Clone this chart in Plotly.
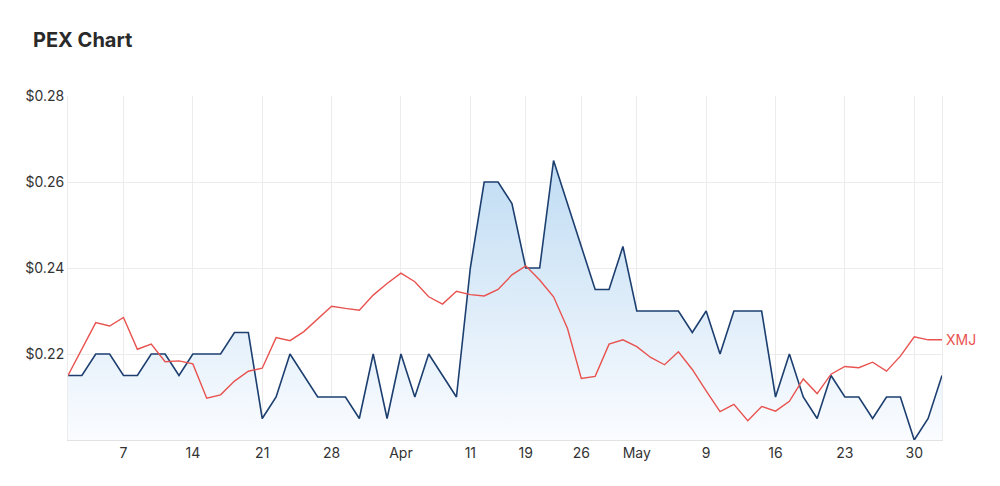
import plotly.graph_objects as go

# trading-day index (0 = 1 Mar 2022 ... 63 = 1 Jun 2022)
day_index = list(range(64))

pex = [0.215, 0.215, 0.22, 0.22, 0.215, 0.215, 0.22, 0.22, 0.215, 0.22,
       0.22, 0.22, 0.225, 0.225, 0.205, 0.21, 0.22, 0.215, 0.21, 0.21,
       0.21, 0.205, 0.22, 0.205, 0.22, 0.21, 0.22, 0.215, 0.21, 0.24,
       0.26, 0.26, 0.255, 0.24, 0.24, 0.265, 0.255, 0.245, 0.235, 0.235,
       0.245, 0.23, 0.23, 0.23, 0.23, 0.225, 0.23, 0.22, 0.23, 0.23,
       0.23, 0.21, 0.22, 0.21, 0.205, 0.215, 0.21, 0.21, 0.205, 0.21,
       0.21, 0.20, 0.205, 0.215]

xmj = [0.215, 0.2213, 0.2273, 0.2265, 0.2285, 0.2211, 0.2223, 0.2182, 0.2184, 0.2177,
       0.2097, 0.2105, 0.2137, 0.2160, 0.2167, 0.2238, 0.2231, 0.2252, 0.2281, 0.2311,
       0.2306, 0.2302, 0.2337, 0.2364, 0.2388, 0.2368, 0.2333, 0.2316, 0.2346, 0.2338,
       0.2335, 0.2350, 0.2384, 0.2405, 0.2372, 0.2333, 0.2260, 0.2143, 0.2148, 0.2223,
       0.2233, 0.2217, 0.2192, 0.2175, 0.2205, 0.2164, 0.2114, 0.2066, 0.2083, 0.2045,
       0.2078, 0.2067, 0.2090, 0.2142, 0.2108, 0.2153, 0.2171, 0.2168, 0.2181, 0.2160,
       0.2195, 0.2240, 0.2233, 0.2233]

tick_index = [4, 9, 14, 19, 24, 29, 33, 37, 41, 46, 51, 56, 61]
tick_text = ["7", "14", "21", "28", "Apr", "11", "19", "26", "May", "9", "16", "23", "30"]
y_ticks = [0.22, 0.24, 0.26, 0.28]
y_tick_text = ["$0.22", "$0.24", "$0.26", "$0.28"]

FONT = "Inter, Roboto, Arial, sans-serif"
GRID = "#ececec"

fig = go.Figure()
fig.add_trace(go.Scatter(
    x=day_index, y=pex, mode="lines", name="PEX",
    line=dict(color="#1c3f70", width=1.6),
    fill="tozeroy",
    fillgradient=dict(type="vertical", start=0.20, stop=0.265,
                      colorscale=[[0, "rgba(250,252,255,1)"], [1, "rgba(192,220,243,1)"]]),
    hoverinfo="skip",
))
fig.add_trace(go.Scatter(
    x=day_index, y=xmj, mode="lines", name="XMJ",
    line=dict(color="#e8524f", width=1.4),
    hoverinfo="skip",
))

fig.add_annotation(x=day_index[-1], y=xmj[-1], text="XMJ", showarrow=False,
                   xanchor="left", yanchor="middle", xshift=2,
                   font=dict(family=FONT, size=14, color="#e8524f"))

fig.update_layout(
    width=1000, height=486,
    margin=dict(l=68, r=58, t=96, b=46),
    paper_bgcolor="white", plot_bgcolor="white",
    showlegend=False,
    font=dict(family=FONT, size=14, color="#333333"),
    title=dict(text="<b>PEX Chart</b>", x=0.033, xanchor="left", y=0.918, yanchor="middle",
               font=dict(family=FONT, size=20, color="#2a2a2a")),
)
fig.update_xaxes(
    range=[0, 63], tickmode="array", tickvals=tick_index, ticktext=tick_text,
    showgrid=True, gridcolor=GRID, gridwidth=1,
    showline=True, linecolor="#e2e2e2", linewidth=1, mirror=False,
    ticks="", zeroline=False, tickfont=dict(size=14, color="#333333"),
)
fig.update_yaxes(
    range=[0.20, 0.28], tickmode="array", tickvals=y_ticks, ticktext=y_tick_text,
    showgrid=True, gridcolor=GRID, gridwidth=1,
    showline=True, linecolor=GRID, mirror=True,
    ticks="", zeroline=False, tickfont=dict(size=14, color="#333333"),
    ticklabelstandoff=0,
)

fig.write_html("out.html")
